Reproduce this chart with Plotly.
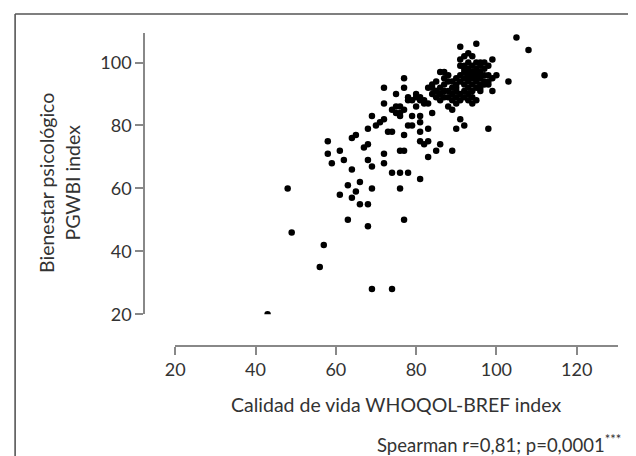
import plotly.graph_objects as go

# Calidad de vida WHOQOL-BREF index (x) vs Bienestar psicológico PGWBI index (y)
x_vals = [
    43, 48, 49, 56, 57, 69, 74, 63, 68, 77, 81,
    58, 58, 59, 61, 62, 64, 61, 63, 64, 65, 66, 66, 68, 69, 68, 69, 67, 68, 64, 65, 68, 69,
    70, 71, 72, 73, 74, 72, 72, 74, 76, 78, 76, 76, 77, 72, 72, 75, 77, 77, 74, 75, 76, 75,
    76, 77, 76, 79, 78, 79, 80, 81, 80, 82, 83, 81, 81, 78, 77, 79, 81, 83, 81, 82, 83, 84,
    86, 85, 83, 89, 88, 89, 90, 91, 92, 98,
    84, 84, 85, 86, 85, 86, 87, 87, 88, 87, 88, 89, 89, 90, 90, 90, 91, 91, 91, 92, 92, 92,
    93, 93, 93, 94, 94, 94, 94, 95, 95, 95, 95, 96, 96, 96, 97, 97, 97, 93, 92, 91, 90, 89,
    88, 88, 87, 86, 89, 90, 91, 92, 93, 94, 95, 96, 94, 95, 93, 92, 91, 93, 96, 97, 98, 98,
    99, 98, 99, 97, 99, 98, 94, 92, 91, 95, 93, 96, 100, 103, 105, 108, 112, 86, 85, 84,
    83, 82, 85, 87, 86, 81, 80, 78, 94, 93, 95, 96, 92, 90, 94, 96, 95, 93,
]
y_vals = [
    20, 60, 46, 35, 42, 28, 28, 50, 48, 50, 63,
    75, 71, 68, 72, 69, 66, 58, 61, 57, 59, 62, 55, 55, 60, 69, 67, 73, 74, 76, 77, 79, 83,
    80, 81, 82, 78, 78, 71, 68, 65, 65, 65, 60, 72, 72, 92, 87, 90, 95, 92, 85, 86, 86, 84,
    84, 85, 83, 83, 89, 88, 90, 89, 86, 87, 87, 83, 81, 80, 77, 80, 78, 79, 75, 74, 75, 84,
    74, 72, 70, 72, 86, 85, 79, 82, 80, 79,
    90, 92, 91, 92, 89, 90, 93, 95, 94, 97, 96, 92, 94, 93, 91, 95, 96, 99, 94, 97, 95, 93,
    96, 94, 98, 95, 93, 97, 99, 96, 94, 98, 100, 95, 97, 93, 96, 94, 100, 92, 91, 90, 89, 90,
    91, 89, 91, 88, 88, 87, 88, 89, 88, 87, 88, 91, 91, 92, 90, 99, 101, 100, 99, 98, 96, 94,
    95, 99, 101, 93, 91, 93, 102, 102, 105, 106, 103, 100, 96, 94, 108, 104, 96, 97, 94, 93,
    92, 88, 91, 89, 90, 88, 89, 88, 96, 97, 95, 96, 98, 92, 89, 92, 97, 95,
]

x_ticks = [20, 40, 60, 80, 100, 120]
y_ticks = [20, 40, 60, 80, 100]

W, H = 636, 456
ML, MR, MT, MB = 136, 25.6, 25, 117.7
PW, PH = W - ML - MR, H - MT - MB


def px(xp):
    return (xp - ML) / PW


def py(yp):
    return (H - MB - yp) / PH


fig = go.Figure()
fig.add_trace(go.Scatter(
    x=x_vals, y=y_vals, mode="markers",
    marker=dict(color="#000000", size=6.5, line=dict(width=0)),
    showlegend=False, hoverinfo="x+y",
))

axis_common = dict(
    showgrid=False, zeroline=False, showline=True, linecolor="#888888", linewidth=1.6,
    ticks="outside", ticklen=8, tickwidth=1.6, tickcolor="#888888",
    tickfont=dict(family="Lato", size=18, color="#333333"),
    anchor="free", position=0,
)

fig.update_layout(
    width=W, height=H,
    margin=dict(l=ML, r=MR, t=MT, b=MB),
    paper_bgcolor="white", plot_bgcolor="white",
    font=dict(family="Lato", color="#333333"),
    xaxis=dict(range=[20, 130.3], domain=[px(167.3), 1], tickvals=x_ticks, **axis_common),
    yaxis=dict(range=[20, 109.4], domain=[py(306.5), 1], tickvals=y_ticks, **axis_common),
    annotations=[
        dict(text="Calidad de vida WHOQOL-BREF index", xref="paper", yref="paper",
             x=px(388), y=py(397), xanchor="center", yanchor="middle", showarrow=False,
             font=dict(family="Lato", size=19.5, color="#333333")),
        dict(text="Bienestar psicológico<br>PGWBI index", xref="paper", yref="paper",
             x=px(51), y=py(175), xanchor="center", yanchor="middle", showarrow=False,
             textangle=-90, font=dict(family="Lato", size=19.5, color="#333333")),
        dict(text="Spearman r=0,81; p=0,0001<sup>***</sup>", xref="paper", yref="paper",
             x=px(615), y=py(436), xanchor="right", yanchor="middle", showarrow=False,
             font=dict(family="Lato", size=18.5, color="#333333")),
    ],
    shapes=[
        dict(type="line", xref="paper", yref="paper", x0=px(7), x1=px(640), y0=py(6), y1=py(6),
             line=dict(color="#555555", width=1.6)),
        dict(type="line", xref="paper", yref="paper", x0=px(7), x1=px(7), y0=py(6), y1=py(460),
             line=dict(color="#555555", width=1.6)),
    ],
)

fig.write_html("out.html")
